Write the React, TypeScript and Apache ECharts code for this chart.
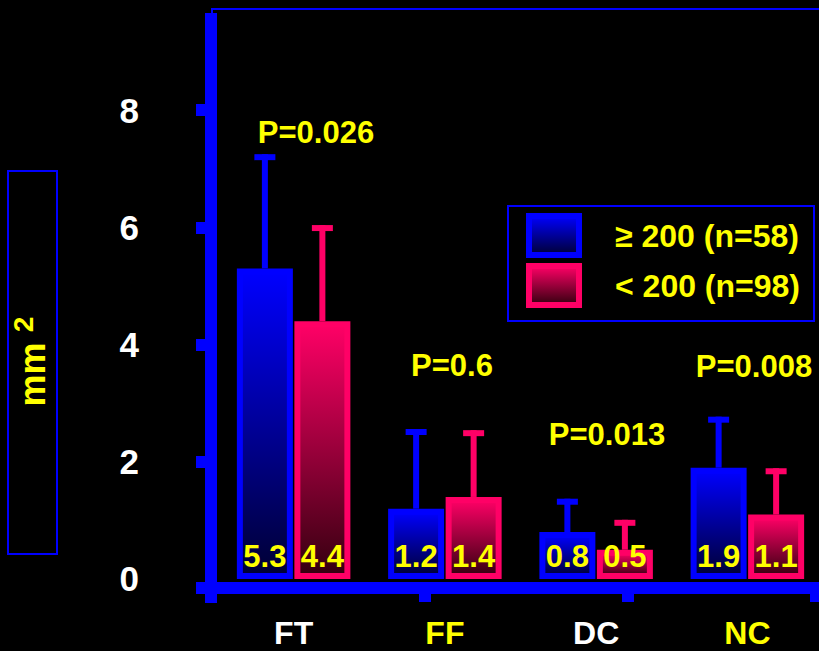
import React, { useEffect, useRef } from "react";
import * as echarts from "echarts";

const categories = ["FT", "FF", "DC", "NC"];
const categoryColors = ["#ffffff", "#ffff00", "#ffffff", "#ffff00"];
const seriesNames = ["≥ 200 (n=58)", "< 200 (n=98)"];
const highValues = [5.3, 1.2, 0.8, 1.9];
const lowValues = [4.4, 1.4, 0.5, 1.1];
const highSD = [1.95, 1.36, 0.57, 0.87];
const lowSD = [1.64, 1.14, 0.51, 0.79];
const yTickValues = [2, 4, 6, 8];
const yLabelValues = [0, 2, 4, 6, 8];
const pLabels = ["P=0.026", "P=0.6", "P=0.013", "P=0.008"];

const FONT = "'Liberation Sans', Arial, Helvetica, sans-serif";
const BLUE = "#0000ff";
const PINK = "#ff0066";
const YELLOW = "#ffff00";

const blueFill = {
  type: "linear", x: 0, y: 0, x2: 0, y2: 1,
  colorStops: [
    { offset: 0, color: "#0000ff" },
    { offset: 1, color: "#000033" },
  ],
};
const pinkFill = {
  type: "linear", x: 0, y: 0, x2: 0, y2: 1,
  colorStops: [
    { offset: 0, color: "#ff0066" },
    { offset: 1, color: "#33000f" },
  ],
};

function errorSeries(name: string, means: number[], sds: number[], offset: number, color: string) {
  return {
    type: "custom",
    name,
    z: 4,
    data: means.map((m, i) => [i, m, sds[i]]),
    encode: { x: 0, y: 1 },
    renderItem: (params: any, api: any) => {
      const i = api.value(0);
      const m = api.value(1);
      const sd = api.value(2);
      const base = api.coord([i, m]);
      const top = api.coord([i, m + sd]);
      const xc = base[0] + offset;
      return {
        type: "group",
        children: [
          { type: "rect", shape: { x: xc - 3, y: top[1], width: 6, height: base[1] - top[1] }, style: { fill: color } },
          { type: "rect", shape: { x: xc - 10.5, y: top[1], width: 21, height: 6 }, style: { fill: color } },
        ],
      };
    },
  };
}

export default function App() {
  const ref = useRef<HTMLDivElement>(null);
  useEffect(() => {
    if (!ref.current) return;
    const chart = echarts.init(ref.current, null, { renderer: "svg" });
    const pPos = [[316, 132], [452, 365], [607, 434], [754, 366]];
    const option: any = {
      animation: false,
      backgroundColor: "#000000",
      textStyle: { fontFamily: FONT },
      grid: { left: 218, width: 605, top: 13, height: 590, outerBoundsMode: "none" },
      legend: {
        orient: "vertical",
        left: 508,
        top: 206,
        padding: [7, 14, 13, 18],
        itemWidth: 50,
        itemHeight: 39,
        itemGap: 5,
        icon: "rect",
        borderColor: BLUE,
        borderWidth: 2,
        selectedMode: false,
        textStyle: {
          color: YELLOW, fontSize: 32, fontWeight: "bold", fontFamily: FONT, lineHeight: 36,
          rich: { g: { width: 31, lineHeight: 36 } },
        },
        formatter: (name: string) => "{g| }" + name,
        data: [
          { name: seriesNames[0], itemStyle: { borderWidth: 6, borderColor: BLUE } },
          { name: seriesNames[1], itemStyle: { borderWidth: 6, borderColor: PINK } },
        ],
      },
      xAxis: {
        type: "category",
        data: categories.map((c, i) => ({ value: c, textStyle: { color: categoryColors[i] } })),
        position: "bottom",
        offset: -15,
        z: 5,
        axisLine: { show: true, onZero: false, lineStyle: { color: BLUE, width: 12, cap: "butt" } },
        axisTick: { show: false },
        axisLabel: { margin: 29, fontSize: 32, fontWeight: "bold", fontFamily: FONT },
        splitLine: { show: false },
      },
      yAxis: {
        type: "value",
        min: -0.4096,
        max: 9.659,
        offset: 7,
        z: 5,
        axisLine: { show: true, lineStyle: { color: BLUE, width: 12, cap: "butt" } },
        axisTick: { show: true, length: 15, lineStyle: { color: BLUE, width: 12, cap: "butt" }, customValues: yTickValues },
        axisLabel: {
          customValues: yLabelValues,
          margin: 72,
          padding: [12, 0, 0, 0],
          color: "#ffffff",
          fontSize: 35,
          fontWeight: "bold",
          fontFamily: FONT,
        },
        splitLine: { show: false },
      },
      series: [
        {
          type: "bar",
          name: seriesNames[0],
          data: highValues,
          barWidth: 56,
          barGap: "2.7%",
          itemStyle: { color: blueFill, borderColor: BLUE, borderWidth: 6 },
          label: {
            show: true, position: "insideBottom", distance: 7,
            color: YELLOW, fontSize: 31, fontWeight: "bold", fontFamily: FONT,
            formatter: (p: any) => Number(p.value).toFixed(1),
          },
        },
        {
          type: "bar",
          name: seriesNames[1],
          data: lowValues,
          barWidth: 56,
          barGap: "2.7%",
          itemStyle: { color: pinkFill, borderColor: PINK, borderWidth: 6 },
          label: {
            show: true, position: "insideBottom", distance: 7,
            color: YELLOW, fontSize: 31, fontWeight: "bold", fontFamily: FONT,
            formatter: (p: any) => Number(p.value).toFixed(1),
          },
        },
        errorSeries("err-high", highValues, highSD, -28.75, BLUE),
        errorSeries("err-low", lowValues, lowSD, 28.75, PINK),
      ],
      graphic: [
        { type: "polyline", shape: { points: [[212, 14], [212, 9], [830, 9]] }, style: { stroke: BLUE, lineWidth: 2, fill: null } },
        { type: "rect", shape: { x: 196, y: 582, width: 24, height: 12 }, style: { fill: BLUE }, z: 10 },
        { type: "rect", shape: { x: 419, y: 593, width: 12, height: 9 }, style: { fill: BLUE }, z: 10 },
        { type: "rect", shape: { x: 622, y: 593, width: 12, height: 9 }, style: { fill: BLUE }, z: 10 },
        { type: "rect", shape: { x: 810, y: 593, width: 12, height: 9 }, style: { fill: BLUE }, z: 10 },
        { type: "rect", shape: { x: 8, y: 171, width: 49, height: 383 }, style: { stroke: BLUE, lineWidth: 2, fill: null } },
        {
          type: "text", x: 32.5, y: 374.5, rotation: Math.PI / 2,
          style: { text: "mm", fill: YELLOW, font: `bold 36px ${FONT}`, align: "center", verticalAlign: "middle" },
        },
        {
          type: "text", x: 23.5, y: 324.5, rotation: Math.PI / 2,
          style: { text: "2", fill: YELLOW, font: `bold 28px ${FONT}`, align: "center", verticalAlign: "middle" },
        },
        ...pLabels.map((t, i) => ({
          type: "text", x: pPos[i][0], y: pPos[i][1],
          style: { text: t, fill: YELLOW, font: `bold 31px ${FONT}`, align: "center", verticalAlign: "middle" },
        })),
      ],
    };
    chart.setOption(option);
    return () => chart.dispose();
  }, []);
  return (
    <div
      ref={ref}
      style={{ position: "fixed", left: 0, top: 0, width: 819, height: 651, background: "#000" }}
    />
  );
}
